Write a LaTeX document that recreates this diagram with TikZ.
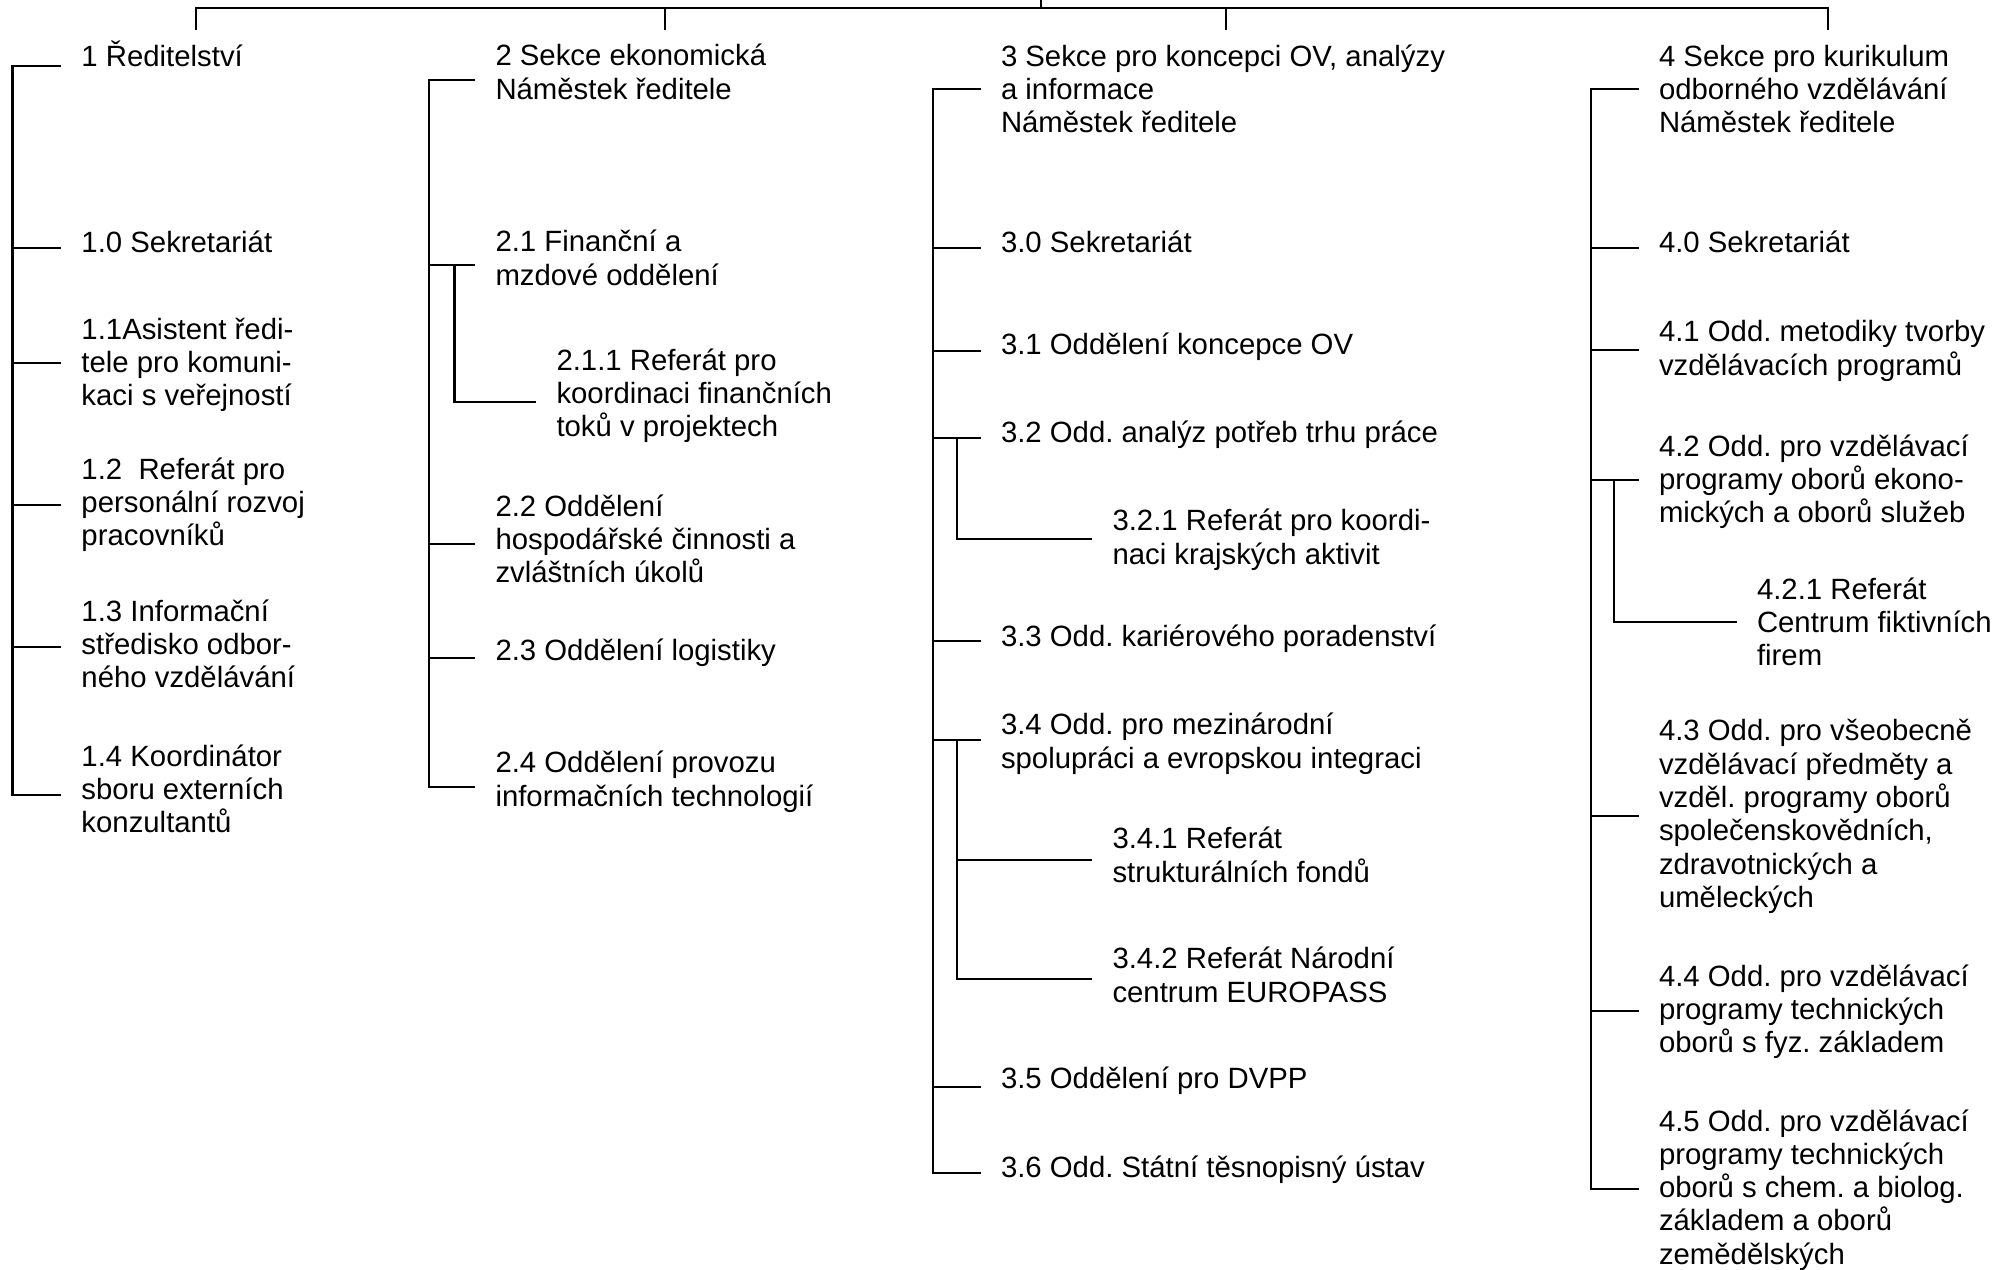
\documentclass[tikz,border=0pt]{standalone}
\usepackage{fontspec}
\setmainfont{Liberation Sans}
\usetikzlibrary{calc}
\frenchspacing
\setlength{\lineskiplimit}{-10pt}
\newcommand\zs{\vrule height 7.7pt depth 1.77pt width 0pt\relax}
\newcommand\stub[3]{%
  \coordinate (#1-r) at ($(#1.west)+(0,#3)$);
  \draw (#1-r -| #2) -- ($(#1-r)+(-21.5,0)$);}
\begin{document}
\begin{tikzpicture}[x=0.01cm,y=-0.01cm,
  lbl/.style={anchor=west,inner sep=0pt,outer sep=0pt,align=left,
    font=\fontsize{8.34pt}{9.47pt}\selectfont\frenchspacing},
  every path/.style={line width=0.6pt,line cap=rect}]
\path[fill=white,use as bounding box] (0,0) rectangle (2011,1270);
% top bar
\coordinate (top) at (1041,0);
\coordinate (bar) at (1041,8.3);
\coordinate (k1) at (196,29);
\coordinate (k2) at (665,29);
\coordinate (k3) at (1226,29);
\coordinate (k4) at (1828,29);
\draw (top) -- (bar);
\draw (k1) -- (k1 |- bar) -- (k4 |- bar) -- (k4);
\draw (k2) -- (k2 |- bar);
\draw (k3) -- (k3 |- bar);
% trunk x positions
\coordinate (t1) at (12.5,0);
\coordinate (t2) at (428.6,0);
\coordinate (u2) at (454.5,0);
\coordinate (t3) at (933,0);
\coordinate (u3) at (957,0);
\coordinate (t4) at (1591,0);
\coordinate (u4) at (1614,0);
% column 1
\node[lbl] (n1) at (81.5,55.6) {\zs 1 Ředitelství};
\node[lbl] (n10) at (81.5,241.6) {\zs 1.0 Sekretariát};
\node[lbl] (n11) at (81.5,361.9) {\zs 1.1Asistent ředi-\\\zs tele pro komuni-\\\zs kaci s veřejností};
\node[lbl] (n12) at (81.5,501.9) {\zs 1.2~\ Referát pro\\\zs personální rozvoj\\\zs pracovníků};
\node[lbl] (n13) at (81.5,643.9) {\zs 1.3 Informační\\\zs středisko odbor-\\\zs ného vzdělávání};
\node[lbl] (n14) at (81.5,788.9) {\zs 1.4 Koordinátor\\\zs sboru externích\\\zs konzultantů};
% column 2
\node[lbl] (n2) at (495.5,72.2) {\zs 2 Sekce ekonomická\\\zs Náměstek ředitele};
\node[lbl] (n21) at (495.5,258.2) {\zs 2.1 Finanční a\\\zs mzdové oddělení};
\node[lbl] (n211) at (556.5,392.9) {\zs 2.1.1 Referát pro\\\zs koordinaci finančních\\\zs toků v projektech};
\node[lbl] (n22) at (495.5,538.9) {\zs 2.2 Oddělení\\\zs hospodářské činnosti a\\\zs zvláštních úkolů};
\node[lbl] (n23) at (495.5,649.6) {\zs 2.3 Oddělení logistiky};
\node[lbl] (n24) at (495.5,779.2) {\zs 2.4 Oddělení provozu\\\zs informačních technologií};
% column 3
\node[lbl] (n3) at (1001,88.9) {\zs 3 Sekce pro koncepci OV, analýzy\\\zs a informace\\\zs Náměstek ředitele};
\node[lbl] (n30) at (1001,241.6) {\zs 3.0 Sekretariát};
\node[lbl] (n31) at (1001,343.6) {\zs 3.1 Oddělení koncepce OV};
\node[lbl] (n32) at (1001,431.6) {\zs 3.2 Odd. analýz potřeb trhu práce};
\node[lbl] (n321) at (1112.5,537.2) {\zs 3.2.1 Referát pro koordi-\\\zs naci krajských aktivit};
\node[lbl] (n33) at (1001,635.6) {\zs 3.3 Odd. kariérového poradenství};
\node[lbl] (n34) at (1001,741.2) {\zs 3.4 Odd. pro mezinárodní\\\zs spolupráci a evropskou integraci};
\node[lbl] (n341) at (1112.5,855.2) {\zs 3.4.1 Referát\\\zs strukturálních fondů};
\node[lbl] (n342) at (1112.5,975.2) {\zs 3.4.2 Referát Národní\\\zs centrum EUROPASS};
\node[lbl] (n35) at (1001,1077.6) {\zs 3.5 Oddělení pro DVPP};
\node[lbl] (n36) at (1001,1166.6) {\zs 3.6 Odd. Státní těsnopisný ústav};
% column 4
\node[lbl] (n4) at (1659,88.9) {\zs 4 Sekce pro kurikulum\\\zs odborného vzdělávání\\\zs Náměstek ředitele};
\node[lbl] (n40) at (1659,241.6) {\zs 4.0 Sekretariát};
\node[lbl] (n41) at (1659,348.2) {\zs 4.1 Odd. metodiky tvorby\\\zs vzdělávacích programů};
\node[lbl] (n42) at (1659,478.9) {\zs 4.2 Odd. pro vzdělávací\\\zs programy oborů ekono-\\\zs mických a oborů služeb};
\node[lbl] (n421) at (1757,621.9) {\zs 4.2.1 Referát\\\zs Centrum fiktivních\\\zs firem};
\node[lbl] (n43) at (1659,813.8) {\zs 4.3 Odd. pro všeobecně\\\zs vzdělávací předměty a\\\zs vzděl. programy oborů\\\zs společenskovědních,\\\zs zdravotnických a\\\zs uměleckých};
\node[lbl] (n44) at (1659,1008.9) {\zs 4.4 Odd. pro vzdělávací\\\zs programy technických\\\zs oborů s fyz. základem};
\node[lbl] (n45) at (1659,1187.2) {\zs 4.5 Odd. pro vzdělávací\\\zs programy technických\\\zs oborů s chem. a biolog.\\\zs základem a oborů\\\zs zemědělských};
% stubs column 1
\stub{n1}{t1}{10.4}
\stub{n10}{t1}{6.4}
\stub{n11}{t1}{1.1}
\stub{n12}{t1}{3.1}
\stub{n13}{t1}{3}
\stub{n14}{t1}{6}
\draw (n1-r -| t1) -- (n14-r -| t1);
% column 2
\stub{n2}{t2}{7.8}
\stub{n21}{t2}{6.8}
\stub{n211}{u2}{9}
\stub{n22}{t2}{5}
\stub{n23}{t2}{8.4}
\stub{n24}{t2}{7.8}
\draw (n2-r -| t2) -- (n24-r -| t2);
\draw (n21-r -| u2) -- (n211-r -| u2);
% column 3
\stub{n3}{t3}{0}
\stub{n30}{t3}{6.4}
\stub{n31}{t3}{7.4}
\stub{n32}{t3}{6.4}
\stub{n321}{u3}{1.8}
\stub{n33}{t3}{5.4}
\stub{n34}{t3}{-1.2}
\stub{n341}{u3}{4.8}
\stub{n342}{u3}{3.8}
\stub{n35}{t3}{9.4}
\stub{n36}{t3}{6.4}
\draw (n3-r -| t3) -- (n36-r -| t3);
\draw (n32-r -| u3) -- (n321-r -| u3);
\draw (n34-r -| u3) -- (n342-r -| u3);
% column 4
\stub{n4}{t4}{0}
\stub{n40}{t4}{6.4}
\stub{n41}{t4}{1.8}
\stub{n42}{t4}{1}
\stub{n421}{u4}{0}
\stub{n43}{t4}{2.2}
\stub{n44}{t4}{2}
\stub{n45}{t4}{1.8}
\draw (n4-r -| t4) -- (n45-r -| t4);
\draw (n42-r -| u4) -- (n421-r -| u4);
\end{tikzpicture}
\end{document}
